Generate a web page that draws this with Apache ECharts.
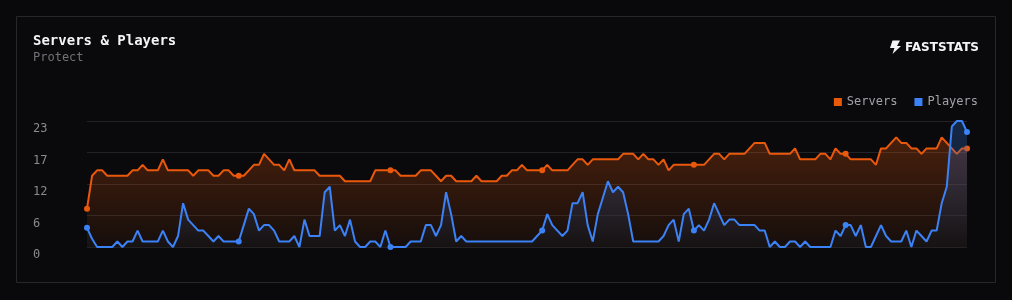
<!DOCTYPE html>
<html>
<head>
<meta charset="utf-8">
<script src="https://cdn.jsdelivr.net/npm/echarts@6/dist/echarts.min.js"></script>
<style>
html, body { margin: 0; padding: 0; background: #09090b; }
#c { width: 1012px; height: 300px; }
</style>
</head>
<body>
<div id="c"></div>
<script>
const servers = [
  7,13,14,14,13,13,13,13,13,14, 14,15,14,14,14,16,14,14,14,14,
  14,13,14,14,14,13,13,14,14,13, 13,13,14,15,15,17,16,15,15,14,
  16,14,14,14,14,14,13,13,13,13, 13,12,12,12,12,12,12,14,14,14,
  14,14,13,13,13,13,14,14,14,13, 12,13,13,12,12,12,12,13,12,12,
  12,12,13,13,14,14,15,14,14,14, 14,15,14,14,14,14,15,16,16,15,
  16,16,16,16,16,16,17,17,17,16, 17,16,16,15,16,14,15,15,15,15,
  15,15,15,16,17,17,16,17,17,17, 17,18,19,19,19,17,17,17,17,17,
  18,16,16,16,16,17,17,16,18,17, 17,16,16,16,16,16,15,18,18,19,
  20,19,19,18,18,17,18,18,18,20, 19,18,17,18,18
];
const players = [
  3.5,1.5,0,0,0,0,1,0,1,1, 3,1,1,1,1,3,1,0,2,8,
  5,4,3,3,2,1,2,1,1,1, 1,4,7,6,3,4,4,3,1,1,
  1,2,0,5,2,2,2,10,11,3, 4,2,5,1,0,0,1,1,0,3,
  0,0,0,0,1,1,1,4,4,2, 4,10,6,1,2,1,1,1,1,1,
  1,1,1,1,1,1,1,1,1,2, 3,6,4,3,2,3,8,8,10,4,
  1,6,9,12,10,11,10,6,1,1, 1,1,1,1,2,4,5,1,6,7,
  3,4,3,5,8,6,4,5,5,4, 4,4,4,3,3,0,1,0,0,1,
  1,0,1,0,0,0,0,0,3,2, 4,4,2,4,0,0,2,4,2,1,
  1,1,3,0,3,2,1,3,3,8, 11,22,23,23,21
];
const yTickLabels = ['0', '6', '12', '17', '23'];
const markedPoints = [0, 30, 60, 90, 120, 150, 174];
const seriesNames = ['Servers', 'Players'];
const categories = servers.map((_, i) => String(i));

const chart = echarts.init(document.getElementById('c'), null, { renderer: 'canvas' });
const mono = '"DejaVu Sans Mono", "Liberation Mono", monospace';

function grad(c0, c1) {
  return new echarts.graphic.LinearGradient(0, 0, 0, 1, [
    { offset: 0, color: c0 }, { offset: 1, color: c1 }
  ]);
}
const symSize = (v, p) => markedPoints.indexOf(p.dataIndex) >= 0 ? 6 : 0;

chart.setOption({
  animation: false,
  backgroundColor: '#09090b',
  title: {
    text: 'Servers & Players',
    subtext: 'Protect',
    left: 33, top: 34, padding: 0, itemGap: 4,
    textStyle: { color: '#f4f4f5', fontFamily: mono, fontSize: 14, fontWeight: 'bold' },
    subtextStyle: { color: '#71717a', fontFamily: mono, fontSize: 12 }
  },
  graphic: [
    { type: 'rect', z: -10, silent: true,
      shape: { x: 16.5, y: 16.5, width: 979, height: 266 },
      style: { fill: '#0a0a0c', stroke: '#27272a', lineWidth: 1 } },
    { type: 'polygon', silent: true,
      shape: { points: [[892.5, 40.5], [900, 40.5], [897, 46], [901, 46], [892.5, 54], [894.5, 48], [890, 48]] },
      style: { fill: '#f4f4f5' } },
    { type: 'text', silent: true, x: 905, y: 47.5,
      style: { text: 'FASTSTATS', fill: '#f4f4f5', font: 'bold 12px "DejaVu Sans"', verticalAlign: 'middle', align: 'left' } }
  ],
  legend: {
    data: seriesNames,
    right: 34, top: 96, padding: 0,
    itemWidth: 8, itemHeight: 8, itemGap: 17, icon: 'rect',
    textStyle: { color: '#a1a1aa', fontFamily: mono, fontSize: 12 }
  },
  grid: { left: 87, right: 45, top: 121, bottom: 53, containLabel: false, outerBoundsMode: 'none' },
  xAxis: {
    type: 'category', data: categories, boundaryGap: false,
    axisLine: { show: false }, axisTick: { show: false }, axisLabel: { show: false },
    splitLine: { show: false }
  },
  yAxis: {
    type: 'value', min: 0, max: 23, interval: 5.75,
    axisLine: { show: false }, axisTick: { show: false },
    axisLabel: {
      color: '#8a8a90', fontFamily: mono, fontSize: 12,
      align: 'left', margin: 54, verticalAlign: 'top', lineHeight: 16,
      formatter: (v, i) => yTickLabels[i]
    },
    splitLine: { show: true, lineStyle: { color: '#232326', width: 1 } }
  },
  series: [
    {
      name: seriesNames[0], type: 'line', data: servers,
      showSymbol: true, showAllSymbol: true, symbol: 'circle', symbolSize: symSize,
      color: '#ea580c',
      lineStyle: { color: '#ea580c', width: 2 },
      itemStyle: { color: '#ea580c' },
      areaStyle: { color: grad('rgba(234,88,12,0.4)', 'rgba(234,88,12,0.07)') },
      z: 2
    },
    {
      name: seriesNames[1], type: 'line', data: players,
      showSymbol: true, showAllSymbol: true, symbol: 'circle', symbolSize: symSize,
      color: '#3b82f6',
      lineStyle: { color: '#3b82f6', width: 2 },
      itemStyle: { color: '#3b82f6' },
      areaStyle: { color: grad('rgba(59,130,246,0.35)', 'rgba(24,24,27,0.55)') },
      z: 3
    }
  ]
});
</script>
</body>
</html>
